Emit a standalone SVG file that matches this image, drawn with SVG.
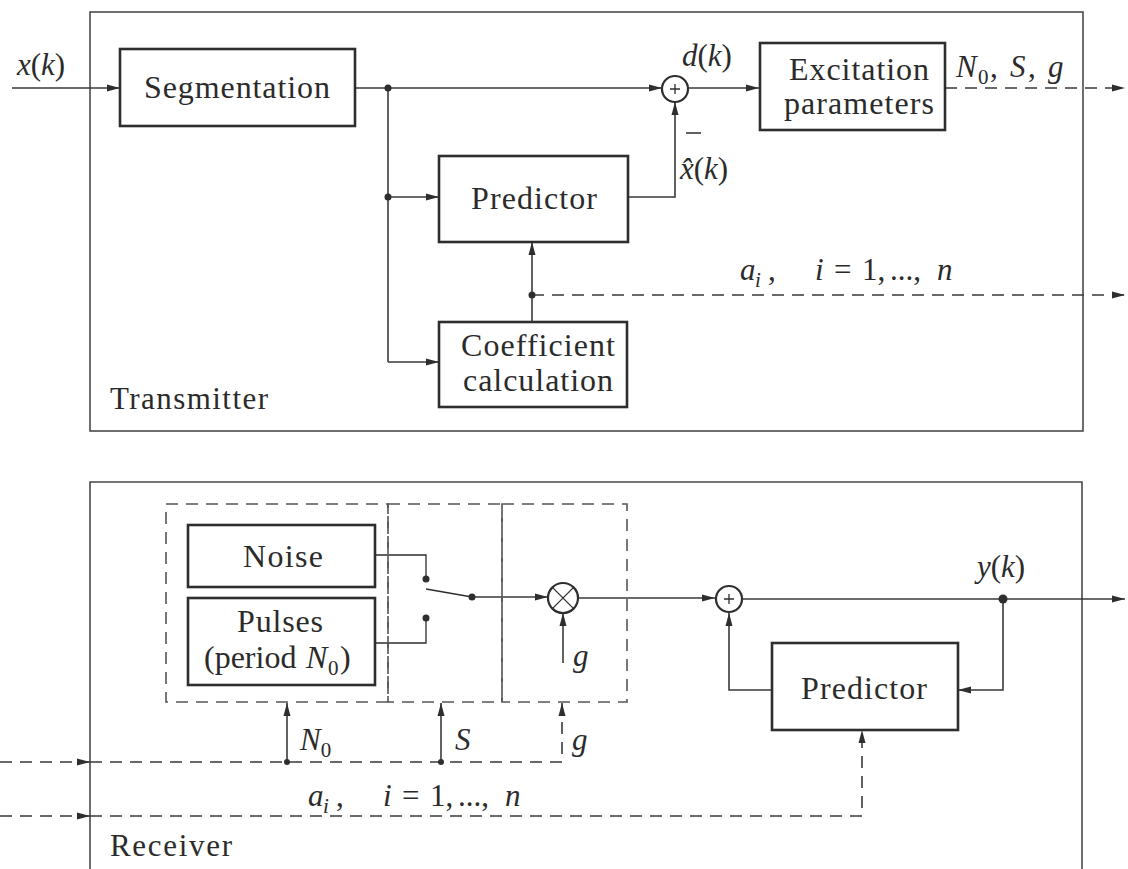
<svg xmlns="http://www.w3.org/2000/svg" width="1128" height="869" viewBox="0 0 1128 869">
  <style>
    .frame { fill: none; stroke: #4a4a4a; stroke-width: 1.6; }
    .box { fill: #ffffff; stroke: #2e2e2e; stroke-width: 2.6; }
    .dbox { fill: none; stroke: #555; stroke-width: 1.6; stroke-dasharray: 12 8; }
    .wire { fill: none; stroke: #3a3a3a; stroke-width: 1.6; }
    .dash { fill: none; stroke: #3a3a3a; stroke-width: 1.6; stroke-dasharray: 12 8; }
    .sym { fill: #ffffff; stroke: #2e2e2e; stroke-width: 2.2; }
    .thin { fill: none; stroke: #2e2e2e; stroke-width: 1.3; }
    .dot { fill: #2e2e2e; }
    text { font-family: "Liberation Serif", "Times New Roman", serif; fill: #2b2b2b; }
    .lbl { font-size: 32px; text-anchor: middle; }
    .cap { font-size: 31px; }
    .math { font-size: 31px; font-style: italic; }
    .up { font-style: normal; }
    .sub { font-size: 21px; font-style: normal; }
    .subi { font-size: 21px; }
  </style>
  <defs>
    <marker id="arr" markerUnits="userSpaceOnUse" markerWidth="14" markerHeight="10" refX="13" refY="5" orient="auto">
      <path d="M0,1.5 L13,5 L0,8.5 Z" fill="#2e2e2e"/>
    </marker>
  </defs>

  <rect width="1128" height="869" fill="#ffffff"/>

  <!-- outer frames -->
  <rect id="transmitter-frame" class="frame" x="90" y="12" width="993" height="419"/>
  <path id="receiver-frame" class="frame" d="M90,870 V482 H1082 V870"/>

  <!-- connectors -->
  <g id="connectors">
    <!-- transmitter -->
    <path class="wire" d="M12,88 H120" marker-end="url(#arr)"/>
    <path class="wire" d="M355,88 H662" marker-end="url(#arr)"/>
    <path class="wire" d="M688,88 H759" marker-end="url(#arr)"/>
    <path class="dash" d="M945,88 H1125" marker-end="url(#arr)"/>
    <path class="wire" d="M388,88 V362"/>
    <path class="wire" d="M388,197 H439" marker-end="url(#arr)"/>
    <path class="wire" d="M388,362 H439" marker-end="url(#arr)"/>
    <path class="wire" d="M628,197 H675 V102" marker-end="url(#arr)"/>
    <path class="wire" d="M532,322 V242" marker-end="url(#arr)"/>
    <path class="dash" d="M532,295 H1125" marker-end="url(#arr)"/>
    <path class="wire" d="M686,133 H701"/>

    <!-- receiver: parameter lines -->
    <path class="dash" d="M0,762 H90" marker-end="url(#arr)"/>
    <path class="dash" d="M90,762 H562 V703" marker-end="url(#arr)"/>
    <path class="wire" d="M287,762 V703" marker-end="url(#arr)"/>
    <path class="wire" d="M441,762 V703" marker-end="url(#arr)"/>
    <path class="dash" d="M0,816 H90" marker-end="url(#arr)"/>
    <path class="dash" d="M90,816 H862 V730" marker-end="url(#arr)"/>

    <!-- receiver: signal path -->
    <path class="thin" d="M375,555 H426 V579"/>
    <path class="thin" d="M375,643 H426 V618"/>
    <path class="thin" d="M426,589 L472,597"/>
    <path class="wire" d="M472,597 H548" marker-end="url(#arr)"/>
    <path class="wire" d="M563,663 V613" marker-end="url(#arr)"/>
    <path class="wire" d="M578,598 H715" marker-end="url(#arr)"/>
    <path class="wire" d="M743,599 H1125" marker-end="url(#arr)"/>
    <path class="wire" d="M1003,599 V690 H958" marker-end="url(#arr)"/>
    <path class="wire" d="M772,690 H729 V613" marker-end="url(#arr)"/>

    <!-- junction dots -->
    <circle class="dot" cx="388" cy="88" r="3.5"/>
    <circle class="dot" cx="388" cy="197" r="3.5"/>
    <circle class="dot" cx="532" cy="295" r="3.5"/>
    <circle class="dot" cx="287" cy="762" r="3"/>
    <circle class="dot" cx="441" cy="762" r="3"/>
    <circle class="dot" cx="1003" cy="599" r="4.5"/>
    <circle class="dot" cx="426" cy="579" r="3.5"/>
    <circle class="dot" cx="426" cy="618" r="3.5"/>
    <circle class="dot" cx="472" cy="597" r="3.5"/>
  </g>

  <!-- transmitter blocks -->
  <g id="segmentation">
    <rect class="box" x="120" y="49" width="235" height="77"/>
    <text class="lbl" x="237" y="98" textLength="186">Segmentation</text>
  </g>
  <g id="sum-tx">
    <circle class="sym" cx="675" cy="89" r="13"/>
    <path class="thin" d="M670,89 H680 M675,84 V94"/>
  </g>
  <g id="excitation">
    <rect class="box" x="760" y="43" width="185" height="87"/>
    <text class="lbl" x="859" y="80" textLength="140">Excitation</text>
    <text class="lbl" x="859" y="114" textLength="150">parameters</text>
  </g>
  <g id="predictor-tx">
    <rect class="box" x="439" y="156" width="189" height="86"/>
    <text class="lbl" x="534" y="209" textLength="126">Predictor</text>
  </g>
  <g id="coefficient">
    <rect class="box" x="439" y="322" width="188" height="85"/>
    <text class="lbl" x="538" y="356" textLength="154">Coefficient</text>
    <text class="lbl" x="538" y="391" textLength="150">calculation</text>
  </g>

  <!-- receiver blocks -->
  <g id="dashed-groups">
    <rect class="dbox" x="166" y="504" width="222" height="198"/>
    <rect class="dbox" x="388" y="504" width="114" height="198"/>
    <rect class="dbox" x="502" y="504" width="125" height="198"/>
  </g>
  <g id="noise">
    <rect class="box" x="188" y="525" width="187" height="62"/>
    <text class="lbl" x="283" y="567" textLength="80">Noise</text>
  </g>
  <g id="pulses">
    <rect class="box" x="188" y="598" width="187" height="87"/>
    <text class="lbl" x="280" y="632" textLength="86">Pulses</text>
    <text font-size="32" x="204" y="668">(period <tspan x="306" font-style="italic">N</tspan><tspan x="328" font-size="21" dy="7">0</tspan><tspan x="340" dy="-7">)</tspan></text>
  </g>
  <g id="multiplier">
    <circle class="sym" cx="563" cy="598" r="15"/>
    <path class="thin" d="M552.4,587.4 L573.6,608.6 M573.6,587.4 L552.4,608.6"/>
  </g>
  <g id="sum-rx">
    <circle class="sym" cx="729" cy="599" r="13"/>
    <path class="thin" d="M724,599 H734 M729,594 V604"/>
  </g>
  <g id="predictor-rx">
    <rect class="box" x="772" y="643" width="186" height="87"/>
    <text class="lbl" x="864" y="699" textLength="126">Predictor</text>
  </g>

  <!-- labels -->
  <g id="labels">
    <text class="cap" x="110" y="409" textLength="158">Transmitter</text>
    <text class="cap" x="110" y="856" textLength="122">Receiver</text>
    <text class="math" x="17" y="75">x<tspan class="up">(</tspan>k<tspan class="up">)</tspan></text>
    <text class="math" x="682" y="66">d<tspan class="up">(</tspan>k<tspan class="up">)</tspan></text>
    <text class="math" x="680" y="179">x̂<tspan class="up">(</tspan>k<tspan class="up">)</tspan></text>
    <text class="math" x="956" y="77">N<tspan class="sub" x="978" dy="7">0</tspan><tspan class="up" x="990" dy="-7">,</tspan><tspan x="1010">S</tspan><tspan class="up" x="1028">,</tspan><tspan x="1048">g</tspan></text>
    <text class="math" x="740" y="280">a<tspan class="subi" x="755" dy="7">i</tspan><tspan class="up" x="768" dy="-7">,</tspan><tspan x="815">i</tspan><tspan class="up" x="834">=</tspan><tspan class="up" x="862">1,</tspan><tspan class="up" x="890">...,</tspan><tspan x="937">n</tspan></text>
    <text class="math" x="977" y="577">y<tspan class="up">(</tspan>k<tspan class="up">)</tspan></text>
    <text class="math" x="573" y="666">g</text>
    <text class="math" x="300" y="750">N<tspan class="sub" dy="7">0</tspan></text>
    <text class="math" x="455" y="750">S</text>
    <text class="math" x="572" y="750">g</text>
    <text class="math" x="308" y="806">a<tspan class="subi" x="323" dy="7">i</tspan><tspan class="up" x="336" dy="-7">,</tspan><tspan x="383">i</tspan><tspan class="up" x="402">=</tspan><tspan class="up" x="430">1,</tspan><tspan class="up" x="458">...,</tspan><tspan x="505">n</tspan></text>
  </g>
</svg>
